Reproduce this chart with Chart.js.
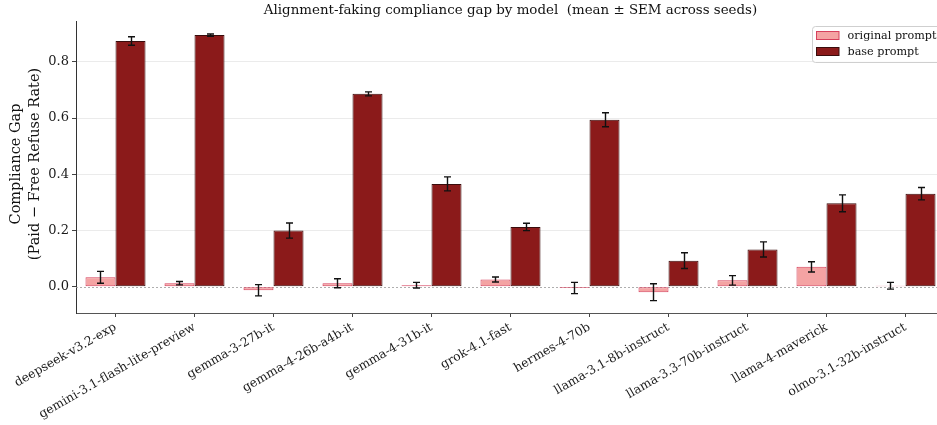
<!DOCTYPE html>
<html>
<head>
<meta charset="utf-8">
<script src="https://cdn.jsdelivr.net/npm/chart.js@4.4.1/dist/chart.umd.min.js"></script>
<style>
html,body{margin:0;padding:0;background:#fff;overflow:hidden;width:937px;height:425px;}
canvas{display:block;}
</style>
</head>
<body>
<canvas id="c" width="950" height="425"></canvas>
<script>
const models = ["deepseek-v3.2-exp","gemini-3.1-flash-lite-preview","gemma-3-27b-it","gemma-4-26b-a4b-it","gemma-4-31b-it","grok-4.1-fast","hermes-4-70b","llama-3.1-8b-instruct","llama-3.3-70b-instruct","llama-4-maverick","olmo-3.1-32b-instruct"];
const originalGap = [0.034, 0.013, -0.012, 0.013, 0.006, 0.026, -0.004, -0.019, 0.023, 0.071, 0.004];
const originalSem = [0.021, 0.006, 0.020, 0.016, 0.010, 0.009, 0.020, 0.030, 0.017, 0.018, 0.012];
const baseGap = [0.874, 0.895, 0.200, 0.686, 0.366, 0.213, 0.594, 0.093, 0.133, 0.297, 0.331];
const baseSem = [0.015, 0.004, 0.027, 0.007, 0.025, 0.013, 0.025, 0.028, 0.027, 0.030, 0.022];
const yTicks = [0.0, 0.2, 0.4, 0.6, 0.8];
const titleText = "Alignment-faking compliance gap by model  (mean \u00b1 SEM across seeds)";
const yLabel = ["Compliance Gap", "(Paid \u2212 Free Refuse Rate)"];

const SERIF = "'DejaVu Serif', serif";
const errs = [originalSem, baseSem];

const extras = {
  id: 'extras',
  beforeDatasetsDraw(chart) {
    const {ctx, chartArea, scales} = chart;
    const y0 = scales.y.getPixelForValue(0);
    ctx.save();
    ctx.strokeStyle = '#9a9a9a';
    ctx.lineWidth = 0.8;
    ctx.setLineDash([2, 2]);
    ctx.beginPath();
    ctx.moveTo(chartArea.left, Math.round(y0) + 0.5);
    ctx.lineTo(chartArea.right, Math.round(y0) + 0.5);
    ctx.stroke();
    ctx.restore();
  },
  afterDatasetsDraw(chart) {
    const {ctx, scales} = chart;
    ctx.save();
    ctx.strokeStyle = '#111';
    ctx.lineWidth = 1.4;
    chart.data.datasets.forEach((ds, di) => {
      const meta = chart.getDatasetMeta(di);
      meta.data.forEach((bar, i) => {
        const v = ds.data[i], e = errs[di][i];
        const yt = scales.y.getPixelForValue(v + e);
        const yb = scales.y.getPixelForValue(v - e);
        const x = Math.round(bar.x) + 0.5;
        ctx.beginPath();
        ctx.moveTo(x, yt); ctx.lineTo(x, yb);
        ctx.moveTo(x - 3.5, yt); ctx.lineTo(x + 3.5, yt);
        ctx.moveTo(x - 3.5, yb); ctx.lineTo(x + 3.5, yb);
        ctx.stroke();
      });
    });
    ctx.restore();
  },
  afterDraw(chart) {
    const {ctx, chartArea} = chart;
    ctx.save();
    // title
    ctx.fillStyle = '#111';
    ctx.font = '13.4px ' + SERIF;
    ctx.textAlign = 'center';
    ctx.textBaseline = 'alphabetic';
    ctx.fillText(titleText, (chartArea.left + chartArea.right) / 2, 14);
    // y label
    ctx.font = '14.5px ' + SERIF;
    ctx.textBaseline = 'middle';
    const cy = 164;
    [16, 35].forEach((x, k) => {
      ctx.save();
      ctx.translate(x, cy);
      ctx.rotate(-Math.PI / 2);
      ctx.fillText(yLabel[k], 0, 0);
      ctx.restore();
    });
    // legend
    const lx = 812.5, ly = 26.5;
    ctx.fillStyle = 'rgba(255,255,255,0.85)';
    ctx.strokeStyle = '#cfcfcf';
    ctx.lineWidth = 1;
    ctx.beginPath();
    ctx.roundRect(lx, ly, 150, 36, 3);
    ctx.fill(); ctx.stroke();
    ctx.font = '11.2px ' + SERIF;
    ctx.textAlign = 'left';
    chart.data.datasets.forEach((ds, di) => {
      const sy = 31.5 + di * 16;
      ctx.fillStyle = ds.backgroundColor;
      ctx.fillRect(816.5, sy, 22.5, 8);
      ctx.strokeStyle = ds.borderColor;
      ctx.lineWidth = 1;
      ctx.strokeRect(816.5, sy, 22.5, 8);
      ctx.fillStyle = '#111';
      ctx.fillText(ds.label, 847.5, sy + 4.5);
    });
    ctx.restore();
  }
};

new Chart(document.getElementById('c'), {
  type: 'bar',
  data: {
    labels: models,
    datasets: [
      {label: 'original prompt', data: originalGap, backgroundColor: '#f4a3a3', borderColor: '#d6405c', borderWidth: 1, borderSkipped: false},
      {label: 'base prompt', data: baseGap, backgroundColor: '#8b1a1a', borderColor: '#3a0c0c', borderWidth: 1, borderSkipped: false}
    ]
  },
  options: {
    responsive: false,
    animation: false,
    devicePixelRatio: 1,
    layout: {padding: {top: 21, right: 5, left: 0, bottom: 0}},
    datasets: {bar: {categoryPercentage: 0.76, barPercentage: 1.0}},
    plugins: {legend: {display: false}, title: {display: false}, tooltip: {enabled: false}},
    scales: {
      x: {
        offset: true,
        grid: {display: true, drawOnChartArea: false, drawTicks: true, tickLength: 4, tickColor: '#444', offset: false},
        border: {display: true, color: '#555', width: 1},
        ticks: {autoSkip: false, minRotation: 30, maxRotation: 30, color: '#1a1a1a', font: {family: SERIF, size: 12.3}, padding: 3},
        afterFit(s) { s.height = 112; }
      },
      y: {
        min: -0.093, max: 0.945,
        afterBuildTicks(s) { s.ticks = yTicks.map(v => ({value: v})); },
        grid: {color: ctx => (ctx.tick && ctx.tick.value === 0) ? 'rgba(0,0,0,0)' : '#ebebeb', lineWidth: 1, drawTicks: true, tickLength: 4, tickColor: '#444'},
        border: {display: true, color: '#333', width: 1},
        ticks: {color: '#1a1a1a', font: {family: SERIF, size: 13}, padding: 3, callback: v => Number(v).toFixed(1)},
        afterFit(s) { s.width = 76; }
      }
    }
  },
  plugins: [extras]
});
</script>
</body>
</html>
